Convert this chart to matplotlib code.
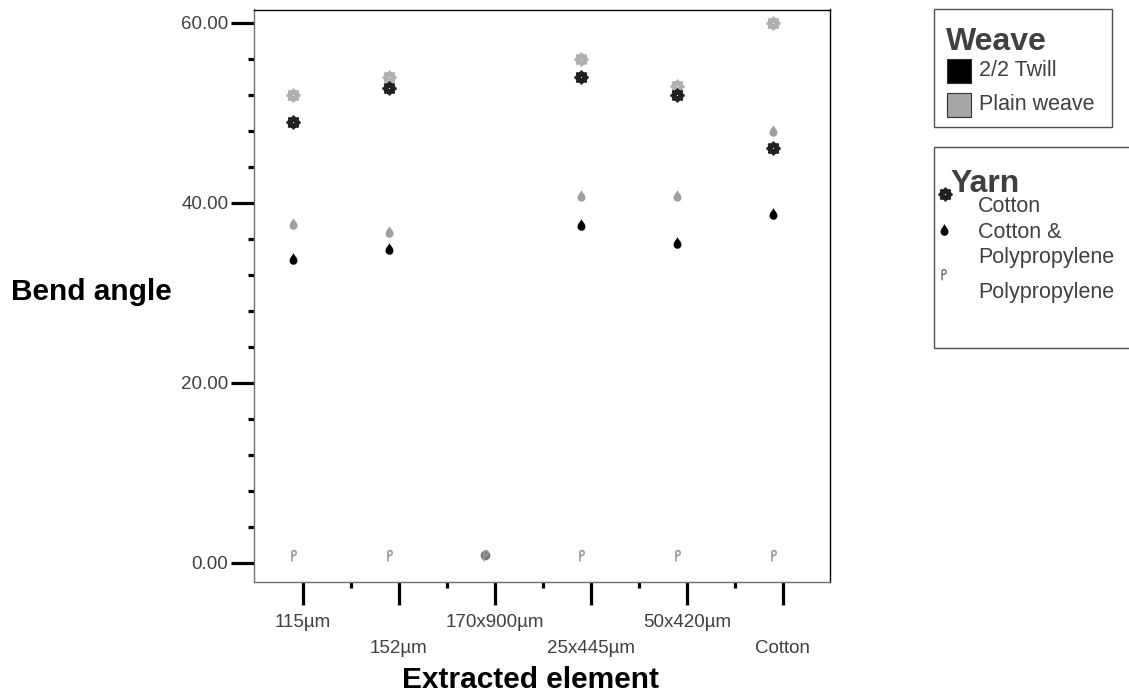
import numpy as np
import matplotlib
matplotlib.use("Agg")
import matplotlib.pyplot as plt
from matplotlib.path import Path
from matplotlib.lines import Line2D
from matplotlib.patches import Rectangle

plt.rcParams['font.family'] = ['Liberation Sans', 'DejaVu Sans']

# data
categories = ['115µm', '152µm', '170x900µm', '25x445µm', '50x420µm', 'Cotton']
nan = np.nan
cotton_twill = [49.0, 52.8, nan, 54.0, 52.0, 46.1]
cotton_plain = [52.0, 54.0, nan, 56.0, 53.0, 60.0]
cpp_twill = [33.7, 34.8, nan, 37.5, 35.5, 38.7]
cpp_plain = [37.6, 36.7, nan, 40.7, 40.7, 48.0]
pp_twill = [nan, nan, 0.8, nan, nan, nan]
pp_plain = [0.9, 0.9, 0.8, 0.9, 0.9, 0.9]

W, H = 1129, 698
def fx(px):
    return px / W
def fy(py):
    return 1 - py / H

# marker shapes
drop = Path([(0, 1), (0.1, 0.6), (0.6, 0.3), (0.6, -0.2),
             (0.6, -0.53), (0.33, -0.8), (0, -0.8),
             (-0.33, -0.8), (-0.6, -0.53), (-0.6, -0.2),
             (-0.6, 0.3), (-0.1, 0.6), (0, 1), (0, 1)],
            [Path.MOVETO] + [Path.CURVE4] * 12 + [Path.CLOSEPOLY])
pin = Path([(-0.25, -1), (-0.25, 0.5),
            (-0.25, 0.95), (0.45, 0.95), (0.45, 0.45),
            (0.45, 0.0), (-0.05, -0.05), (-0.25, 0.05)],
           [Path.MOVETO, Path.LINETO] + [Path.CURVE4] * 6)
wheel = r'$☸$'

black = '#000000'
gray_c = '#b0b0b0'
gray_d = '#a0a0a0'
gray_p = '#9a9a9a'
txt = '#404040'
fs_tick = 13.5
fs_axis = 21.5
fs_leg = 15.5
fs_legtitle = 23

fig = plt.figure(figsize=(W / 100, H / 100), dpi=100)
ax = fig.add_axes([fx(254), fy(582), (830 - 254) / W, (582 - 9.5) / H])

x = np.arange(len(categories)) - 0.1
ax.plot(x, cotton_plain, ls='none', marker=wheel, ms=9.5, color=gray_c)
ax.plot(x, cotton_twill, ls='none', marker=wheel, ms=9.5, color='#202020')
ax.plot(x, cpp_plain, ls='none', marker=drop, ms=9.5, color=gray_d, mew=0)
ax.plot(x, cpp_twill, ls='none', marker=drop, ms=9.5, color=black, mew=0)
ax.plot(x, pp_twill, ls='none', marker='o', ms=7, color='#7a7a7a', mew=0)
ax.plot(x, pp_plain, ls='none', marker=pin, ms=8.5, color=gray_p, mfc='none', mew=1.2)

ax.set_xlim(-0.51, 5.49)
ax.set_ylim(-2.15, 61.47)

ax.set_yticks([0, 20, 40, 60])
ax.set_yticklabels(['%.2f' % v for v in [0, 20, 40, 60]])
ax.set_yticks(np.arange(4, 60, 4), minor=True)
ax.set_xticks(range(len(categories)))
ax.set_xticklabels(categories)
ax.set_xticks(np.arange(0.5, 5, 1), minor=True)

ax.tick_params(which='major', length=16.5, width=2.3, color='black',
               labelsize=fs_tick, labelcolor=txt)
ax.tick_params(which='minor', length=4, width=2.3, color='black')
for i, t in enumerate(ax.xaxis.get_major_ticks()):
    t.set_pad(6.5 if i % 2 == 0 else 25)
ax.tick_params(axis='y', which='major', pad=2)

for side in ['left', 'bottom']:
    ax.spines[side].set_color('#707070')
for side in ['top', 'right']:
    ax.spines[side].set_color('black')
for s in ax.spines.values():
    s.set_linewidth(1)

ax.set_ylabel('Bend angle', fontsize=fs_axis, fontweight='bold', rotation=0,
              ha='center', va='center')
ax.yaxis.set_label_coords((91 - 254) / 576, 0.507)
ax.set_xlabel('Extracted element', fontsize=fs_axis, fontweight='bold', va='center')
ax.xaxis.set_label_coords((530 - 254) / 576, -0.171)

# legend boxes drawn by hand
fig.add_artist(Rectangle((fx(934), fy(127)), (1112 - 934) / W, (127 - 9) / H,
                         transform=fig.transFigure, fill=False, ec='#505050', lw=1))
fig.text(fx(946), fy(50), 'Weave', fontsize=fs_legtitle, fontweight='bold', color=txt,
         va='baseline')
fig.add_artist(Rectangle((fx(947), fy(83)), 24 / W, 24 / H, transform=fig.transFigure,
                         fc='black', ec='#303030', lw=0.8))
fig.add_artist(Rectangle((fx(947), fy(117)), 24 / W, 24 / H, transform=fig.transFigure,
                         fc='#a6a6a6', ec='#303030', lw=0.8))
fig.text(fx(979), fy(71), '2/2 Twill', fontsize=fs_leg, color=txt, va='center')
fig.text(fx(979), fy(105), 'Plain weave', fontsize=fs_leg, color=txt, va='center')

fig.add_artist(Rectangle((fx(934), fy(348)), (1140 - 934) / W, (348 - 147) / H,
                         transform=fig.transFigure, fill=False, ec='#505050', lw=1))
fig.text(fx(950), fy(192), 'Yarn', fontsize=fs_legtitle, fontweight='bold', color=txt,
         va='baseline')
fig.add_artist(Line2D([fx(945)], [fy(194)], marker=wheel, ms=9.5, color='#202020',
                      transform=fig.transFigure))
fig.add_artist(Line2D([fx(944)], [fy(230)], marker=drop, ms=9.5, color='black', mew=0,
                      transform=fig.transFigure))
fig.add_artist(Line2D([fx(943)], [fy(274)], marker=pin, ms=8.5, color='#707070',
                      mfc='none', mew=1, transform=fig.transFigure))
fig.text(fx(978), fy(207), 'Cotton', fontsize=fs_leg, color=txt, va='center')
fig.text(fx(978), fy(245), 'Cotton &\nPolypropylene', fontsize=fs_leg, color=txt,
         va='center', linespacing=1.3)
fig.text(fx(978), fy(293), 'Polypropylene', fontsize=fs_leg, color=txt, va='center')

fig.savefig('out.png', dpi=100)
